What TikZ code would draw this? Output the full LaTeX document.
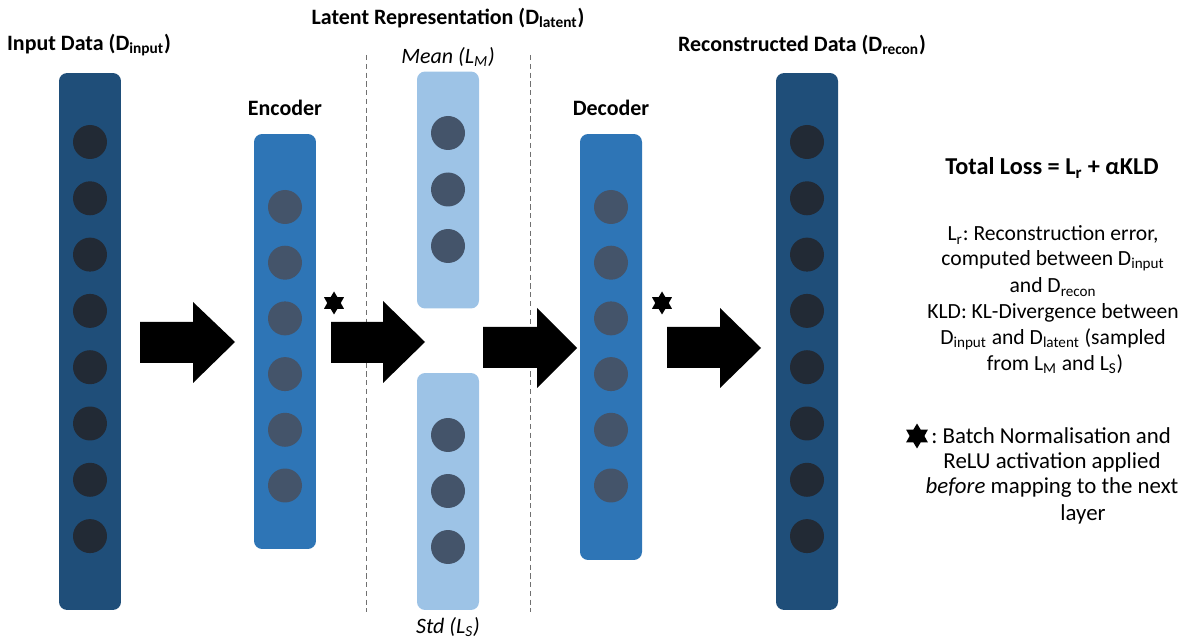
\documentclass[tikz,border=0pt]{standalone}
\usepackage{fontspec}
\setmainfont{Carlito}
\usetikzlibrary{shapes.geometric}
\definecolor{darkbox}{HTML}{1F4E79}
\definecolor{darkdot}{HTML}{222A35}
\definecolor{midbox}{HTML}{2E75B6}
\definecolor{middot}{HTML}{44546A}
\definecolor{lightbox}{HTML}{9DC3E6}
\definecolor{sepline}{HTML}{707070}
\newcommand{\sbs}[1]{\textsubscript{#1}}
\frenchspacing
\begin{document}
\begin{tikzpicture}[x=0.02cm,y=-0.02cm,
  layer/.style={rounded corners=0.16cm, minimum width=1.24cm, inner sep=0, draw=none},
  neuron/.style={circle, minimum size=0.68cm, inner sep=0, draw=none},
  title/.style={font=\fontsize{12.5}{15}\selectfont\bfseries, inner sep=0},
  ital/.style={font=\fontsize{12.5}{15}\selectfont\itshape, inner sep=0},
  body/.style={font=\fontsize{12.3}{14.8}\selectfont\frenchspacing, inner sep=0},
  legend/.style={font=\fontsize{13}{15}\selectfont\frenchspacing, inner sep=0},
  bigarrow/.style={fill=black},
  bnstar/.style={star, star points=6, star point ratio=1.7, fill=black, minimum size=0.46cm, inner sep=0},
  sep/.style={draw=sepline, densely dashed, line width=0.4pt}]
\useasboundingbox (0,0) rectangle (1189,641);

% layers
\node[layer, fill=darkbox, minimum height=10.74cm] (inp) at (90,341.5) {};
\node[layer, fill=midbox, minimum height=8.3cm] (enc) at (285,341.5) {};
\node[layer, fill=lightbox, minimum height=4.74cm] (mean) at (448,190) {};
\node[layer, fill=lightbox, minimum height=4.74cm] (std) at (448,491.5) {};
\node[layer, fill=midbox, minimum height=8.52cm] (dec) at (611,347) {};
\node[layer, fill=darkbox, minimum height=10.74cm] (rec) at (807,341.5) {};

% neurons
\foreach \i in {0,...,7} {
  \node[neuron, fill=darkdot] (in\i) at (90,142+56.3*\i) {};
  \node[neuron, fill=darkdot] (re\i) at (807,142+56.3*\i) {};
}
\foreach \i in {0,...,5} {
  \node[neuron, fill=middot] (en\i) at (285,207+55.7*\i) {};
  \node[neuron, fill=middot] (de\i) at (611,207+55.7*\i) {};
}
\foreach \i in {0,1,2} {
  \node[neuron, fill=middot] (me\i) at (448,133+56.5*\i) {};
  \node[neuron, fill=middot] (sd\i) at (448,435+56*\i) {};
}

% separators
\coordinate (s1t) at (366,55); \coordinate (s1b) at (366,612);
\coordinate (s2t) at (530,55); \coordinate (s2b) at (530,612);
\draw[sep] (s1t) -- (s1b);
\draw[sep] (s2t) -- (s2b);

% block arrows
\fill[bigarrow] (140,322) -- (193,322) -- (193,302) -- (235,342) -- (193,383) -- (193,363) -- (140,363) -- cycle;
\fill[bigarrow] (331,322) -- (383,322) -- (383,301) -- (425,342) -- (383,383) -- (383,363) -- (331,363) -- cycle;
\fill[bigarrow] (483,327) -- (537,327) -- (537,308) -- (577,348) -- (537,388) -- (537,368) -- (483,368) -- cycle;
\fill[bigarrow] (667,327) -- (720,327) -- (720,308) -- (761,348) -- (720,388) -- (720,368) -- (667,368) -- cycle;

% stars
\node[bnstar] (st1) at (334,303) {};
\node[bnstar] (st2) at (662,303) {};

% titles
\node[title] (tlat) at (448,18) {Latent Representation (D\sbs{latent})};
\node[title] (tin) at (89,45) {Input Data (D\sbs{input})};
\node[title] (trec) at (802,45) {Reconstructed Data (D\sbs{recon})};
\node[title] (tenc) at (285,108) {Encoder};
\node[title] (tdec) at (611,108) {Decoder};
\node[ital] (tmean) at (448,57) {Mean (L\sbs{M})};
\node[ital] (tstd) at (448,627) {Std (L\sbs{S})};

% loss text
\node[font=\fontsize{13.8}{16}\selectfont\bfseries, inner sep=0] (loss) at (1052,168) {Total Loss = L\sbs{r} + αKLD};
\node[body] (d1) at (1053,235) {L\sbs{r}: Reconstruction error,};
\node[body] (d2) at (1053,261) {computed between D\sbs{input}};
\node[body] (d3) at (1053,287) {and D\sbs{recon}};
\node[body] (d4) at (1053,313) {KLD: KL-Divergence between};
\node[body] (d5) at (1053,339) {D\sbs{input} and D\sbs{latent} (sampled};
\node[body] (d6) at (1055,364) {from L\sbs{M} and L\sbs{S})};

% legend
\node[bnstar, minimum size=0.5cm] (st3) at (917,436) {};
\node[legend, anchor=west] (lg1) at (931,436) {: Batch Normalisation and};
\node[legend] (lg2) at (1052,462) {ReLU activation applied};
\node[legend] (lg3) at (1052,488) {\textit{before} mapping to the next};
\node[legend] (lg4) at (1083,514) {layer};
\end{tikzpicture}
\end{document}
